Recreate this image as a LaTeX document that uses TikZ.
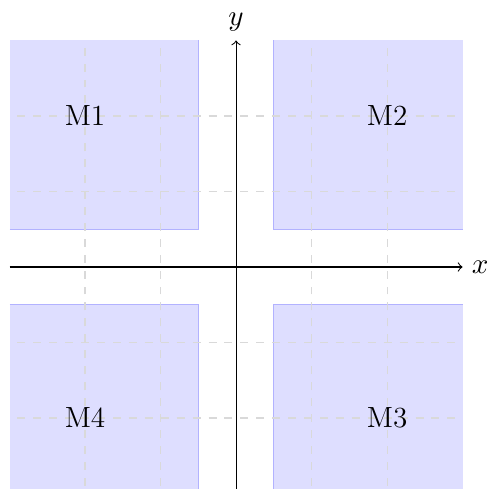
\documentclass[tikz,border=0pt]{standalone}
\begin{document}
\begin{tikzpicture}[x=1cm,y=1cm,
  region/.style={fill=blue!13,draw=none},
  regionedge/.style={draw=blue!30,line width=0.4pt},
  gridline/.style={draw=black!15,dash pattern=on 3pt off 3pt,dash phase=3pt,line width=0.4pt},
  axis/.style={draw=black,line width=0.4pt,->},
  lbl/.style={font=\fontsize{11}{13}\selectfont}]
\useasboundingbox (-3.126,-2.940) rectangle (3.311,3.536);
% regions
\fill[region] (-3,0.5) rectangle (-0.5,3);
\fill[region] (0.5,0.5) rectangle (3,3);
\fill[region] (-3,-3) rectangle (-0.5,-0.5);
\fill[region] (0.5,-3) rectangle (3,-0.5);
\draw[regionedge] (-3,0.5) -- (-0.5,0.5) -- (-0.5,3);
\draw[regionedge] (3,0.5) -- (0.5,0.5) -- (0.5,3);
\draw[regionedge] (-3,-0.5) -- (-0.5,-0.5) -- (-0.5,-3);
\draw[regionedge] (3,-0.5) -- (0.5,-0.5) -- (0.5,-3);
% grid
\foreach \v in {-2,-1,1,2} {
  \draw[gridline] (\v,-3) -- (\v,3);
  \draw[gridline] (-3,\v) -- (3,\v);
}
% axes
\coordinate (xs) at (-3,0);
\coordinate (ys) at (0,-3);
\coordinate (xe) at (3,0);
\coordinate (ye) at (0,3);
\draw[axis] (xs) -- (xe);
\draw[axis] (ys) -- (ye);
\node[lbl,right] (xl) at (xe) {$x$};
\node[lbl,above] (yl) at (ye) {$y$};
% labels
\node[lbl] (m1) at (-2,2) {M1};
\node[lbl] (m2) at (2,2) {M2};
\node[lbl] (m4) at (-2,-2) {M4};
\node[lbl] (m3) at (2,-2) {M3};
\end{tikzpicture}
\end{document}
